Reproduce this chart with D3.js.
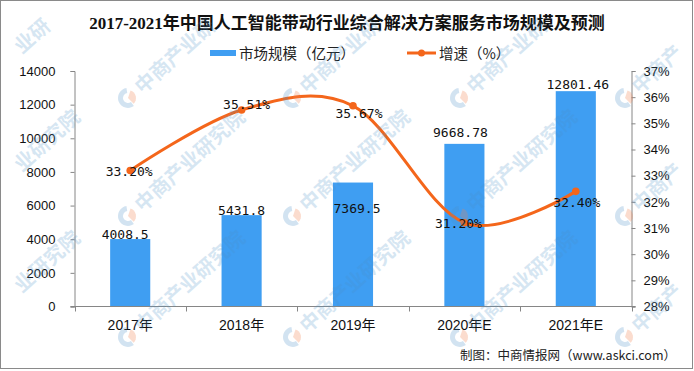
<!DOCTYPE html>
<html><head><meta charset="utf-8">
<script src="https://cdn.jsdelivr.net/npm/d3@7/dist/d3.min.js"></script>
<style>
html,body{margin:0;padding:0;background:#fff;}
svg{display:block;}
</style></head>
<body>
<svg id="chart" width="694" height="371"></svg>
<script>
// ---- data ----
const categories = ["2017年", "2018年", "2019年", "2020年E", "2021年E"];
const marketSize = [4008.5, 5431.8, 7369.5, 9668.78, 12801.46];
const marketLabels = ["4008.5", "5431.8", "7369.5", "9668.78", "12801.46"];
const growthRate = [33.20, 35.51, 35.67, 31.20, 32.40];
const growthLabels = ["33.20%", "35.51%", "35.67%", "31.20%", "32.40%"];
const leftTicks = [0, 2000, 4000, 6000, 8000, 10000, 12000, 14000];
const rightTicks = [28, 29, 30, 31, 32, 33, 34, 35, 36, 37];
const seriesNames = ["市场规模（亿元）", "增速（%）"];
const titleText = "2017-2021年中国人工智能带动行业综合解决方案服务市场规模及预测";
const sourceText = "制图：中商情报网（www.askci.com）";
const watermarkText = "中商产业研究院";

// ---- label nudges (style, px) ----
const barLabelDx = [-5, 0, 4, -4, 2];
const barLabelDy = [0, 0, 30, -7, -2];
const lineLabelDx = [-1, 5, 6, -6, 1];
const lineLabelDy = [6, -1, 12, 5, 16];

const W = 694, H = 371;
const BLUE = "#3f9ef2", ORANGE = "#f4661b", AXIS = "#868686";
const svg = d3.select("#chart");

const plot = {left: 74.5, right: 631.5, top: 71, bottom: 306.5};

const x = d3.scaleBand().domain(categories).range([plot.left, plot.right]).padding(0);
const barW = x.step() * 0.36;
const yL = d3.scaleLinear().domain([0, 14000]).range([plot.bottom, plot.top]);
const yR = d3.scaleLinear().domain([28, 37]).range([plot.bottom, plot.top]);

// frame
svg.append("rect").attr("x", 0.5).attr("y", 0.5).attr("width", W - 2).attr("height", H - 3)
  .attr("fill", "#fff").attr("stroke", "#8a8a8a");

// title
svg.append("text").attr("x", 347).attr("y", 29).attr("text-anchor", "middle")
  .attr("font-family", "'Liberation Serif','Noto Sans CJK SC',serif").attr("font-weight", "bold")
  .attr("font-size", 17).attr("fill", "#111").text(titleText);

// legend
const lg = svg.append("g").attr("font-family", "'Noto Sans CJK SC',sans-serif").attr("font-size", 14.5);
lg.append("rect").attr("x", 210).attr("y", 50).attr("width", 26).attr("height", 6).attr("fill", BLUE);
lg.append("text").attr("x", 239).attr("y", 58.5).attr("fill", "#222").text(seriesNames[0]);
lg.append("line").attr("x1", 407).attr("x2", 436).attr("y1", 53).attr("y2", 53)
  .attr("stroke", ORANGE).attr("stroke-width", 3);
lg.append("circle").attr("cx", 421.5).attr("cy", 53).attr("r", 3.5).attr("fill", ORANGE);
lg.append("text").attr("x", 439).attr("y", 58.5).attr("fill", "#222").text(seriesNames[1]);

// bars
svg.append("g").selectAll("rect").data(marketSize).join("rect")
  .attr("x", (d, i) => x(categories[i]) + x.step() / 2 - barW / 2)
  .attr("y", d => yL(d))
  .attr("width", barW)
  .attr("height", d => yL(0) - yL(d))
  .attr("fill", BLUE);

// axes
const tickFont = "'Liberation Sans','DejaVu Sans',sans-serif";
const axL = svg.append("g").attr("transform", `translate(${plot.left},0)`)
  .call(d3.axisLeft(yL).tickValues(leftTicks).tickSize(4).tickPadding(15).tickFormat(d3.format("d")));
const axR = svg.append("g").attr("transform", `translate(${plot.right},0)`)
  .call(d3.axisRight(yR).tickValues(rightTicks).tickSize(4).tickPadding(8).tickFormat(d => d + "%"));
[axL, axR].forEach(a => {
  a.select(".domain").attr("stroke", AXIS);
  a.selectAll(".tick line").attr("stroke", AXIS);
  a.selectAll(".tick text").attr("font-family", tickFont).attr("font-size", 13).attr("fill", "#111");
});

// bottom axis
const bx = svg.append("g");
bx.append("line").attr("x1", plot.left - 4).attr("x2", plot.right + 4)
  .attr("y1", plot.bottom).attr("y2", plot.bottom).attr("stroke", AXIS);
const bounds = categories.map(c => x(c)).concat([x(categories[categories.length - 1]) + x.step()]);
bx.selectAll("line.t").data(bounds).join("line").attr("class", "t")
  .attr("x1", d => Math.round(d) + 0.5).attr("x2", d => Math.round(d) + 0.5)
  .attr("y1", plot.bottom).attr("y2", plot.bottom + 5).attr("stroke", AXIS);
bx.selectAll("text").data(categories).join("text")
  .attr("x", d => x(d) + x.step() / 2).attr("y", 330).attr("text-anchor", "middle")
  .attr("font-family", "'Liberation Sans','Noto Sans CJK SC',sans-serif").attr("font-size", 14)
  .attr("fill", "#111").text(d => d);

// line
const pts = growthRate.map((v, i) => [x(categories[i]) + x.step() / 2, yR(v)]);
svg.append("path").attr("d", d3.line().curve(d3.curveCardinal.tension(0))(pts))
  .attr("fill", "none").attr("stroke", ORANGE).attr("stroke-width", 3);
svg.append("g").selectAll("circle").data(pts).join("circle")
  .attr("cx", d => d[0]).attr("cy", d => d[1]).attr("r", 3.8).attr("fill", ORANGE);

// labels
const monoFont = "'DejaVu Sans Mono','Liberation Mono',monospace";
svg.append("g").selectAll("text").data(marketSize).join("text")
  .attr("x", (d, i) => x(categories[i]) + x.step() / 2 + barLabelDx[i])
  .attr("y", (d, i) => yL(d) + barLabelDy[i])
  .attr("text-anchor", "middle").attr("font-family", monoFont).attr("font-size", 13)
  .attr("fill", "#111").text((d, i) => marketLabels[i]);
svg.append("g").selectAll("text").data(growthRate).join("text")
  .attr("x", (d, i) => pts[i][0] + lineLabelDx[i])
  .attr("y", (d, i) => pts[i][1] + lineLabelDy[i])
  .attr("text-anchor", "middle").attr("font-family", monoFont).attr("font-size", 13)
  .attr("fill", "#111").text((d, i) => growthLabels[i]);

// source
svg.append("text").attr("x", 676).attr("y", 360).attr("text-anchor", "end")
  .attr("font-family", "'Noto Sans CJK SC',sans-serif").attr("font-size", 12.5)
  .attr("fill", "#222").text(sourceText);

// watermark (characters placed along a rotated baseline; only those fully inside the picture)
const wmCols = [-37, 128, 293, 460, 625];
const wmRows = [-22, 98, 216, 337, 457];
const ang = -42 * Math.PI / 180, ca = Math.cos(ang), sa = Math.sin(ang);
const wm = svg.append("g").attr("pointer-events", "none");
const chars = Array.from(watermarkText);
wmRows.forEach(ry => wmCols.forEach(cx => {
  if (cx > -15 && cx < W - 10 && ry > 0 && ry < H - 10) {
    const g = wm.append("g").attr("transform", `translate(${cx},${ry})`);
    g.append("path").attr("d", d3.arc().innerRadius(5).outerRadius(10).startAngle(0.8 * Math.PI).endAngle(1.95 * Math.PI)())
      .attr("fill", "#4a90c8").attr("opacity", 0.25);
    g.append("path").attr("d", d3.arc().innerRadius(0).outerRadius(8).startAngle(0.1 * Math.PI).endAngle(0.75 * Math.PI)())
      .attr("fill", "#f08050").attr("opacity", 0.28);
  }
  chars.forEach((ch, i) => {
    const u = 23 + 20 * i;
    const px = cx + u * ca, py = ry + u * sa;
    const m = 20;
    if (px - m < 1 || px + m > W - 2 || py - m < 1 || py + m > H - 3) return;
    wm.append("text").attr("transform", `translate(${px.toFixed(1)},${py.toFixed(1)}) rotate(-42)`)
      .attr("text-anchor", "middle").attr("dy", "0.36em")
      .attr("font-family", "'Noto Sans CJK SC',sans-serif").attr("font-weight", "bold").attr("font-size", 20)
      .attr("fill", "#4a90c8").attr("opacity", 0.22).text(ch);
  });
}));
</script>
</body></html>
